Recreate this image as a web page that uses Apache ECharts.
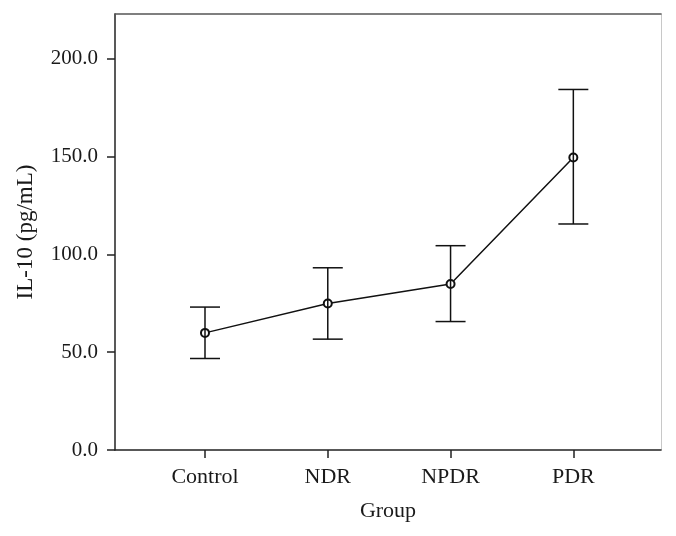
<!DOCTYPE html>
<html>
<head>
<meta charset="utf-8">
<style>
  html, body { margin: 0; padding: 0; background: #fff; }
  #chart { width: 676px; height: 536px; }
</style>
<script src="https://cdn.jsdelivr.net/npm/echarts@6/dist/echarts.min.js"></script>
</head>
<body>
<div id="chart"></div>
<script>
const categories = ['Control', 'NDR', 'NPDR', 'PDR'];
const means = [59.9, 74.9, 84.9, 149.6];
const upper = [73.1, 93.2, 104.5, 184.4];
const lower = [46.8, 56.7, 65.7, 115.6];
const yTicks = [0, 50, 100, 150, 200];

const FONT = 'Liberation Serif';
const TXT = '#1a1a1a';
const xPos = categories.map((c, i) => i + 1);

const chart = echarts.init(document.getElementById('chart'));
chart.setOption({
  animation: false,
  backgroundColor: '#fff',
  grid: { left: 115, right: 15, top: 14, bottom: 86, containLabel: false },
  xAxis: [{
    type: 'value', min: 0.267, max: 4.714,
    position: 'bottom',
    name: 'Group', nameLocation: 'middle', nameGap: 50,
    nameTextStyle: { fontFamily: FONT, fontSize: 22, color: TXT },
    axisLine: { show: true, onZero: false, lineStyle: { color: '#222', width: 1.5 } },
    axisTick: { show: true, length: 8, customValues: xPos, lineStyle: { color: '#222', width: 1.5 } },
    axisLabel: { customValues: xPos, margin: 16, fontFamily: FONT, fontSize: 22, color: TXT,
      formatter: v => categories[Math.round(v) - 1] },
    splitLine: { show: false }
  }, {
    type: 'value', min: 0.267, max: 4.714, position: 'top',
    axisLine: { show: true, onZero: false, lineStyle: { color: '#555', width: 1.5 } },
    axisTick: { show: false }, axisLabel: { show: false }, splitLine: { show: false }
  }],
  yAxis: [{
    type: 'value', min: 0, max: 223,
    position: 'left',
    name: 'IL-10 (pg/mL)', nameLocation: 'middle', nameGap: 78, nameRotate: 90,
    nameTextStyle: { fontFamily: FONT, fontSize: 23, color: TXT, padding: [0, 0, 0, 0] },
    axisLine: { show: true, onZero: false, lineStyle: { color: '#222', width: 1.5 } },
    axisTick: { show: true, length: 8, customValues: yTicks, lineStyle: { color: '#222', width: 1.5 } },
    axisLabel: { customValues: yTicks, margin: 17, fontFamily: FONT, fontSize: 21, color: TXT,
      formatter: v => v.toFixed(1) },
    splitLine: { show: false }
  }, {
    type: 'value', min: 0, max: 223, position: 'right',
    axisLine: { show: true, onZero: false, lineStyle: { color: '#c8c8c8', width: 1 } },
    axisTick: { show: false }, axisLabel: { show: false }, splitLine: { show: false }
  }],
  series: [{
    type: 'line',
    xAxisIndex: 0, yAxisIndex: 0,
    data: categories.map((c, i) => [xPos[i], means[i]]),
    symbol: 'emptyCircle', symbolSize: 8,
    lineStyle: { color: '#111', width: 1.5 },
    itemStyle: { color: '#111', borderColor: '#111', borderWidth: 1.5 },
    z: 2
  }, {
    type: 'custom',
    xAxisIndex: 0, yAxisIndex: 0,
    data: categories.map((c, i) => [xPos[i], lower[i], upper[i]]),
    renderItem: function (params, api) {
      const x = api.value(0);
      const pHi = api.coord([x, api.value(2)]);
      const pLo = api.coord([x, api.value(1)]);
      const hw = 15;
      const style = { stroke: '#111', lineWidth: 1.5 };
      return {
        type: 'group',
        children: [
          { type: 'line', shape: { x1: pHi[0], y1: pHi[1], x2: pLo[0], y2: pLo[1] }, style },
          { type: 'line', shape: { x1: pHi[0] - hw, y1: pHi[1], x2: pHi[0] + hw, y2: pHi[1] }, style },
          { type: 'line', shape: { x1: pLo[0] - hw, y1: pLo[1], x2: pLo[0] + hw, y2: pLo[1] }, style }
        ]
      };
    },
    z: 3
  }]
});
</script>
</body>
</html>
